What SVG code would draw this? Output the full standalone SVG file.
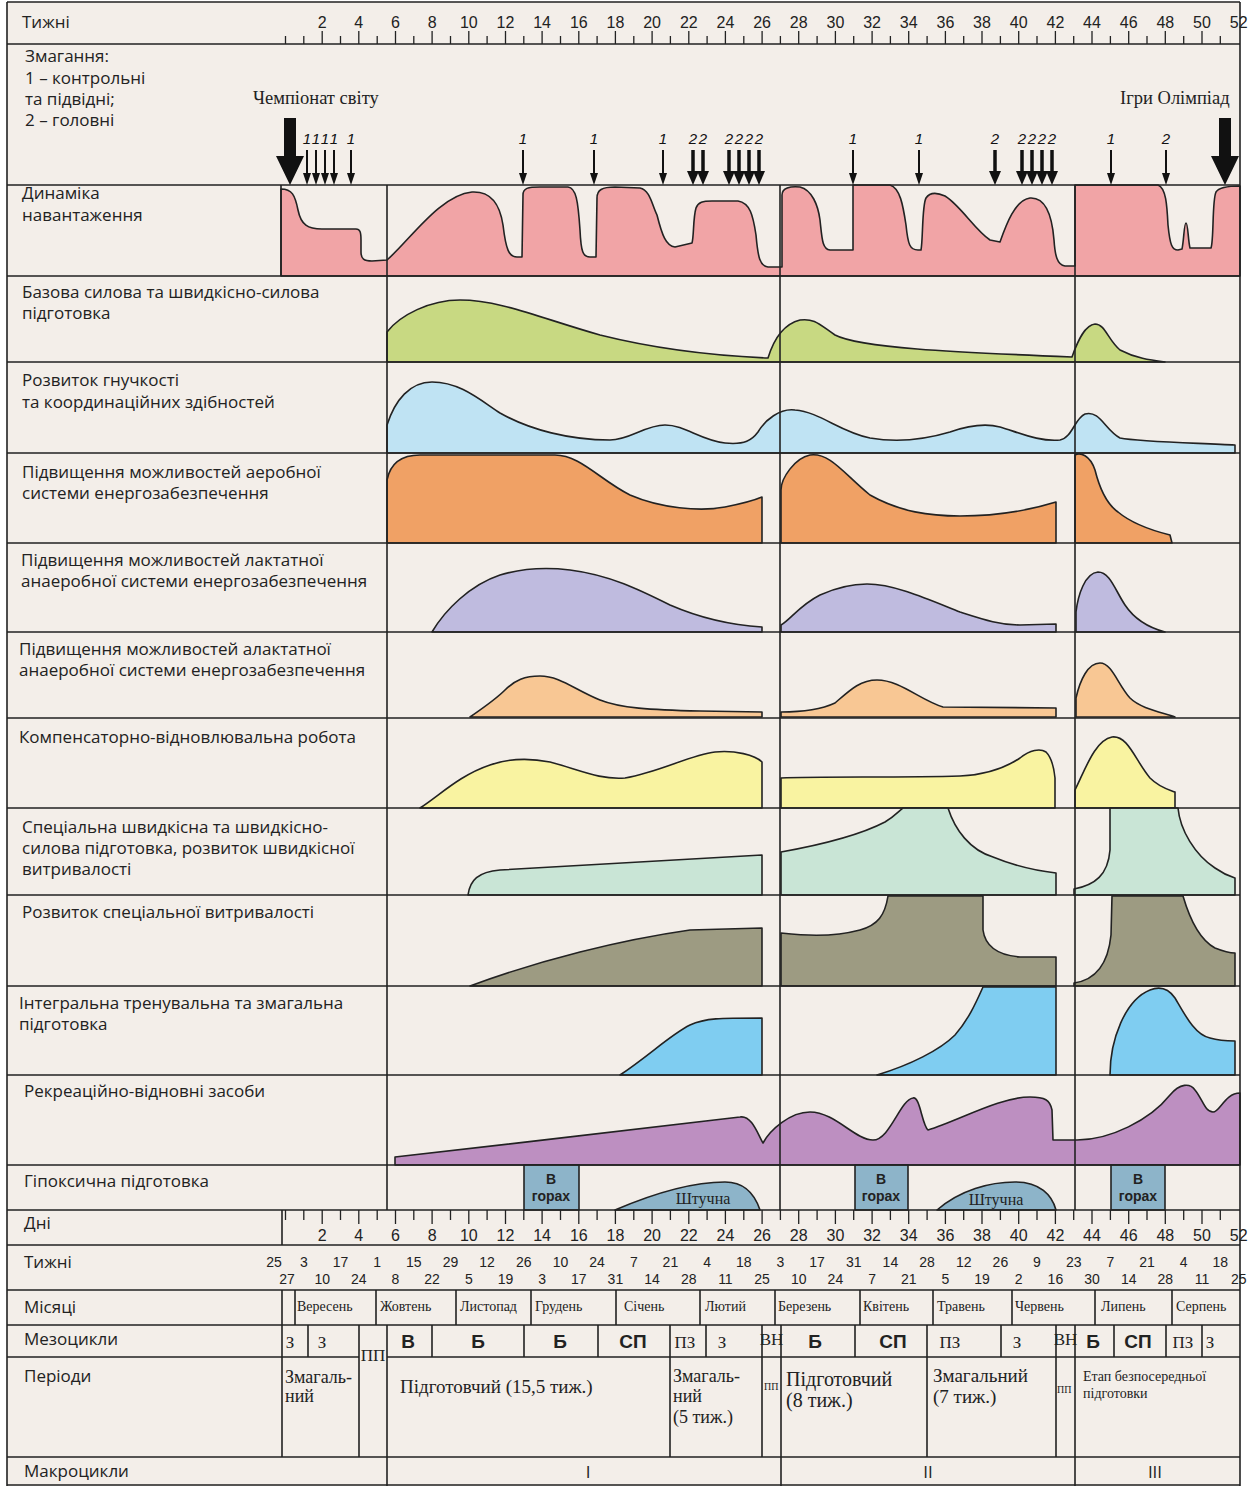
<svg xmlns="http://www.w3.org/2000/svg" width="1250" height="1486" viewBox="0 0 1250 1486">
<defs>
<style>
.lbl{font-family:"Open Sans","Noto Sans",sans-serif;font-size:17px;fill:#222}
.num{font-family:"Liberation Sans Narrow","Liberation Sans",sans-serif;font-size:16px;fill:#222;text-anchor:middle}
.dt{font-family:"Liberation Sans Narrow","Liberation Sans",sans-serif;font-size:14px;fill:#222;text-anchor:middle}
.ser{font-family:"Liberation Serif",serif;fill:#222}
.mon{font-family:"Liberation Serif",serif;font-size:14px;fill:#222}
.mb{font-family:"Liberation Sans Narrow","Liberation Sans",sans-serif;font-size:19px;font-weight:bold;fill:#222;text-anchor:middle}
.ms{font-family:"Liberation Serif",serif;font-size:17px;fill:#222;text-anchor:middle}
.it{font-family:"Liberation Sans Narrow","Liberation Sans",sans-serif;font-size:15px;font-style:italic;fill:#111;text-anchor:middle}
.ln{stroke:#222;stroke-width:1.6;fill:none}
.tk{stroke:#222;stroke-width:1.3;fill:none}
.sh{stroke:#222;stroke-width:1.6;stroke-linejoin:round}
</style>
<g id="a1"><line x1="0" y1="-35" x2="0" y2="-10" stroke="#111" stroke-width="2"/><path d="M-4,-12 L4,-12 L0,0 Z" fill="#111"/></g>
<g id="a2"><line x1="0" y1="-35" x2="0" y2="-11" stroke="#111" stroke-width="3.5"/><path d="M-6,-14 L6,-14 L0,0 Z" fill="#111"/></g>
<path id="abig" d="M-6,-67 H6 V-29 H14 L0,0 L-14,-29 H-6 Z" fill="#111"/>
</defs>
<rect x="0" y="0" width="1250" height="1486" fill="#ffffff"/>
<rect x="7" y="2" width="1233" height="1484" fill="#f3eee9"/>

<g id="shapes">
<path id="load" class="sh" fill="#f1a4a6" d="M281,276 L281,189 C292,189 295,195 298,210 C301,225 308,229 322,229 L356,229 C360,229 361,232 361,240 L361,252 C361,259 364,261 372,261 L387,260 C410,240 440,195 472,192 C492,191 500,205 503,225 C506,250 509,257 517,257 L522,257 L523,195 C523,188 528,187 540,187 L568,187 C576,188 578,200 580,230 C581,252 583,257 590,257 L596,257 L597,198 C597,190 602,187 615,187 L640,188 C650,190 652,205 657,215 C662,235 666,246 675,247 L692,243 C694,236 693,218 696,208 C698,202 703,201 712,201 L738,201 C750,203 753,215 756,235 C758,258 760,266 768,267 L782,267 L782,195 C782,188 790,186 800,187 C812,190 818,205 820,220 C822,238 822,249 830,250 L853,250 L853,185 L890,185 C900,188 903,205 906,225 C908,245 910,250 918,250 L921,250 C923,240 922,205 926,198 C930,192 936,192 945,196 C960,205 975,230 990,240 L1000,242 C1006,225 1015,200 1030,198 C1045,197 1052,215 1054,240 C1055,255 1057,265 1065,266 L1075,266 L1075,185 L1158,185 C1166,188 1167,205 1168,225 C1170,245 1172,250 1178,250 L1182,249 C1184,240 1184,223 1186,223 C1188,223 1188,240 1190,248 L1211,248 C1214,240 1212,200 1216,192 C1219,187 1228,186 1240,186 L1240,276 Z"/>
<path id="base" class="sh" fill="#c8d982" d="M387,362 L387,332 C400,315 430,300 460,300 C500,300 540,318 600,335 C660,350 720,356 768,358 C772,345 780,325 800,320 C815,318 820,325 835,335 C860,348 950,352 1072,357 C1078,340 1085,325 1095,324 C1105,324 1108,340 1120,350 C1135,358 1150,360 1165,362 Z"/>
<path id="flex" class="sh" fill="#bfe3f3" d="M387,453 L387,425 C395,400 410,382 432,382 C460,382 480,400 500,413 C530,430 570,440 610,440 C630,440 645,425 665,425 C685,425 700,440 725,443 C745,445 752,440 758,432 C765,420 780,408 795,410 C820,412 840,432 870,438 C900,443 930,438 950,432 C970,425 985,423 1000,427 C1020,433 1040,442 1060,440 C1072,438 1075,418 1085,414 C1100,410 1105,430 1120,438 C1140,442 1200,443 1235,445 L1235,453 Z"/>
<g id="aero" class="sh" fill="#f0a165">
<path d="M387,543 L387,480 C390,465 400,455 420,455 L555,455 C580,455 600,480 630,495 C660,508 700,512 725,507 C745,503 755,500 762,497 L762,543 Z"/>
<path d="M781,543 L781,490 C781,478 795,458 810,455 C830,452 845,475 870,495 C900,512 930,516 960,516 C1000,516 1030,510 1056,502 L1056,543 Z"/>
<path d="M1075,543 L1075,455 C1080,452 1090,455 1095,470 C1100,490 1108,505 1118,512 C1130,522 1150,530 1170,535 L1172,543 Z"/>
</g>
<g id="lact" class="sh" fill="#bfbbdf">
<path d="M432,632 C445,610 470,585 500,575 C520,569 545,567 570,570 C610,575 640,590 670,605 C700,618 730,625 762,627 L762,632 Z"/>
<path d="M781,632 L781,625 C790,620 800,605 820,595 C840,586 855,584 867,584 C895,584 930,600 960,612 C985,620 1000,625 1020,625 L1056,624 L1056,632 Z"/>
<path d="M1076,632 L1076,612 C1078,595 1085,573 1098,572 C1110,572 1115,590 1125,605 C1135,620 1150,628 1165,632 Z"/>
</g>
<g id="alact" class="sh" fill="#f8c794">
<path d="M470,717 C480,710 495,700 505,690 C515,680 525,676 540,676 C560,676 575,690 600,700 C620,708 650,710 700,711 L762,712 L762,717 Z"/>
<path d="M781,717 L781,712 C800,712 820,710 835,703 C850,690 860,680 877,680 C900,680 920,700 943,707 L1056,708 L1056,717 Z"/>
<path d="M1076,717 L1076,698 C1080,680 1088,663 1100,663 C1112,663 1118,685 1130,698 C1140,708 1160,712 1175,717 Z"/>
</g>
<g id="comp" class="sh" fill="#f9f3a1">
<path d="M420,808 C440,795 460,775 490,765 C510,758 530,758 550,762 C580,770 600,780 625,778 C660,772 690,755 715,752 C735,750 755,755 762,762 L762,808 Z"/>
<path d="M781,808 L781,778 C820,776 900,778 960,776 C985,775 1005,768 1020,758 C1030,750 1040,748 1046,752 C1052,758 1054,768 1055,778 L1055,808 Z"/>
<path d="M1075,808 L1075,790 C1085,770 1095,740 1112,737 C1128,735 1135,760 1150,778 C1160,788 1170,790 1175,792 L1175,808 Z"/>
</g>
<g id="speed" class="sh" fill="#c9e5d6">
<path d="M468,895 C470,880 478,872 500,870 C560,866 650,862 762,855 L762,895 Z"/>
<path d="M781,895 L781,852 C820,845 860,835 885,822 C895,816 900,810 903,808 L948,808 C955,830 970,850 993,857 C1010,864 1030,870 1056,873 L1056,895 Z"/>
<path d="M1074,895 L1074,889 C1095,885 1108,875 1110,850 L1110,808 L1178,808 C1180,830 1195,855 1215,868 C1225,875 1232,877 1235,878 L1235,895 Z"/>
</g>
<g id="endur" class="sh" fill="#9d9b82">
<path d="M470,986 C540,960 620,940 690,930 L762,928 L762,986 Z"/>
<path d="M781,986 L781,933 C800,935 830,938 860,930 C878,925 885,915 888,896 L983,896 L983,930 C985,945 995,955 1020,957 L1056,957 L1056,986 Z"/>
<path d="M1074,986 L1074,983 C1095,980 1108,965 1111,935 L1112,896 L1183,896 C1190,920 1200,940 1215,948 C1225,952 1232,953 1235,953 L1235,986 Z"/>
</g>
<g id="integr" class="sh" fill="#7fcdf1">
<path d="M620,1075 C650,1055 670,1035 690,1025 C705,1018 720,1018 762,1018 L762,1075 Z"/>
<path d="M877,1075 C910,1065 940,1050 955,1035 C968,1020 975,1005 983,987 L1056,987 L1056,1075 Z"/>
<path d="M1110,1075 C1110,1040 1125,1000 1150,990 C1160,986 1168,988 1175,998 C1185,1015 1195,1035 1210,1038 C1220,1041 1230,1041 1235,1041 L1235,1075 Z"/>
</g>
<path id="recr" class="sh" fill="#bd8fc1" d="M395,1165 L395,1157 C500,1145 650,1128 740,1117 C752,1115 758,1135 763,1143 C770,1130 790,1112 810,1112 C835,1112 855,1140 873,1140 C890,1140 900,1100 913,1098 C920,1096 922,1125 928,1130 C960,1120 1000,1097 1030,1097 C1045,1097 1050,1100 1052,1110 L1053,1140 L1077,1140 C1110,1140 1150,1120 1170,1095 C1180,1083 1190,1083 1195,1090 C1203,1100 1205,1112 1213,1112 C1220,1112 1225,1093 1240,1093 L1240,1165 Z"/>
<g id="hypox" class="sh" fill="#8db4c9">
<rect x="524" y="1165" width="55" height="45"/>
<rect x="855" y="1165" width="53" height="45"/>
<rect x="1111" y="1165" width="54" height="45"/>
<path d="M615,1210 C650,1195 690,1182 725,1182 C745,1182 755,1195 760,1210 Z"/>
<path d="M937,1210 C960,1190 990,1182 1015,1182 C1040,1182 1052,1195 1056,1210 Z"/>
</g>
</g>

<g id="grid" class="ln">
<path d="M7,44 H1240 M7,185 H1240 M7,276 H1240 M7,362 H1240 M7,453 H1240 M7,543 H1240 M7,632 H1240 M7,718 H1240 M7,808 H1240 M7,895 H1240 M7,986 H1240 M7,1075 H1240 M7,1165 H1240 M7,1210 H1240 M7,1245 H1240 M7,1290 H1240 M7,1325 H1240 M7,1357 H359 M387,1357 H1240 M7,1457 H1240 M7,1485 H1240"/>
<path d="M7,2 H1240 M7,2 V1486 M1240,2 V1486"/>
<path d="M281,185 V276 M387,185 V1210 M780,185 V1210 M1075,185 V1210 M387,1325 V1486 M781,1325 V1486 M1075,1325 V1486 M282,1210 V1245 M282,1290 V1457"/>
<path d="M295,1290 V1325 M376,1290 V1325 M456,1290 V1325 M531,1290 V1325 M616,1290 V1325 M700,1290 V1325 M775,1290 V1325 M860,1290 V1325 M933,1290 V1325 M1012,1290 V1325 M1095,1290 V1325 M1172,1290 V1325"/>
<path d="M308,1325 V1357 M359,1325 V1457 M432,1325 V1357 M524,1325 V1357 M598,1325 V1357 M670,1325 V1457 M706,1325 V1357 M762,1325 V1457 M855,1325 V1357 M927,1325 V1457 M1001,1325 V1357 M1056,1325 V1457 M1114,1325 V1357 M1166,1325 V1357 M1202,1325 V1357"/>
</g>

<g id="rulers" class="tk">
<path d="M285.5,36V44 M303.8,36V44 M322.2,31V44 M340.5,36V44 M358.8,31V44 M377.2,36V44 M395.5,31V44 M413.8,36V44 M432.1,31V44 M450.5,36V44 M468.8,31V44 M487.1,36V44 M505.5,31V44 M523.8,36V44 M542.1,31V44 M560.5,36V44 M578.8,31V44 M597.1,36V44 M615.4,31V44 M633.8,36V44 M652.1,31V44 M670.4,36V44 M688.8,31V44 M707.1,36V44 M725.4,31V44 M743.8,36V44 M762.1,31V44 M780.4,36V44 M798.7,31V44 M817.1,36V44 M835.4,31V44 M853.7,36V44 M872.1,31V44 M890.4,36V44 M908.7,31V44 M927.1,36V44 M945.4,31V44 M963.7,36V44 M982,31V44 M1000.4,36V44 M1018.7,31V44 M1037,36V44 M1055.4,31V44 M1073.7,36V44 M1092,31V44 M1110.4,36V44 M1128.7,31V44 M1147,36V44 M1165.3,31V44 M1183.7,36V44 M1202,31V44 M1220.3,36V44"/>
<path d="M285.5,1210V1220 M303.8,1210V1220 M322.2,1210V1224 M340.5,1210V1220 M358.8,1210V1224 M377.2,1210V1220 M395.5,1210V1224 M413.8,1210V1220 M432.1,1210V1224 M450.5,1210V1220 M468.8,1210V1224 M487.1,1210V1220 M505.5,1210V1224 M523.8,1210V1220 M542.1,1210V1224 M560.5,1210V1220 M578.8,1210V1224 M597.1,1210V1220 M615.4,1210V1224 M633.8,1210V1220 M652.1,1210V1224 M670.4,1210V1220 M688.8,1210V1224 M707.1,1210V1220 M725.4,1210V1224 M743.8,1210V1220 M762.1,1210V1224 M780.4,1210V1220 M798.7,1210V1224 M817.1,1210V1220 M835.4,1210V1224 M853.7,1210V1220 M872.1,1210V1224 M890.4,1210V1220 M908.7,1210V1224 M927.1,1210V1220 M945.4,1210V1224 M963.7,1210V1220 M982,1210V1224 M1000.4,1210V1220 M1018.7,1210V1224 M1037,1210V1220 M1055.4,1210V1224 M1073.7,1210V1220 M1092,1210V1224 M1110.4,1210V1220 M1128.7,1210V1224 M1147,1210V1220 M1165.3,1210V1224 M1183.7,1210V1220 M1202,1210V1224 M1220.3,1210V1220"/>
</g>

<g id="week-numbers">
<text class="num" y="28"><tspan x="322.2">2</tspan><tspan x="358.8">4</tspan><tspan x="395.5">6</tspan><tspan x="432.1">8</tspan><tspan x="468.8">10</tspan><tspan x="505.5">12</tspan><tspan x="542.1">14</tspan><tspan x="578.8">16</tspan><tspan x="615.4">18</tspan><tspan x="652.1">20</tspan><tspan x="688.8">22</tspan><tspan x="725.4">24</tspan><tspan x="762.1">26</tspan><tspan x="798.7">28</tspan><tspan x="835.4">30</tspan><tspan x="872.1">32</tspan><tspan x="908.7">34</tspan><tspan x="945.4">36</tspan><tspan x="982">38</tspan><tspan x="1018.7">40</tspan><tspan x="1055.4">42</tspan><tspan x="1092">44</tspan><tspan x="1128.7">46</tspan><tspan x="1165.3">48</tspan><tspan x="1202">50</tspan><tspan x="1238.7">52</tspan></text>
<text class="num" y="1241"><tspan x="322.2">2</tspan><tspan x="358.8">4</tspan><tspan x="395.5">6</tspan><tspan x="432.1">8</tspan><tspan x="468.8">10</tspan><tspan x="505.5">12</tspan><tspan x="542.1">14</tspan><tspan x="578.8">16</tspan><tspan x="615.4">18</tspan><tspan x="652.1">20</tspan><tspan x="688.8">22</tspan><tspan x="725.4">24</tspan><tspan x="762.1">26</tspan><tspan x="798.7">28</tspan><tspan x="835.4">30</tspan><tspan x="872.1">32</tspan><tspan x="908.7">34</tspan><tspan x="945.4">36</tspan><tspan x="982">38</tspan><tspan x="1018.7">40</tspan><tspan x="1055.4">42</tspan><tspan x="1092">44</tspan><tspan x="1128.7">46</tspan><tspan x="1165.3">48</tspan><tspan x="1202">50</tspan><tspan x="1238.7">52</tspan></text>
<text class="dt" y="1267"><tspan x="274">25</tspan><tspan x="303.8">3</tspan><tspan x="340.5">17</tspan><tspan x="377.2">1</tspan><tspan x="413.8">15</tspan><tspan x="450.5">29</tspan><tspan x="487.1">12</tspan><tspan x="523.8">26</tspan><tspan x="560.5">10</tspan><tspan x="597.1">24</tspan><tspan x="633.8">7</tspan><tspan x="670.4">21</tspan><tspan x="707.1">4</tspan><tspan x="743.8">18</tspan><tspan x="780.4">3</tspan><tspan x="817.1">17</tspan><tspan x="853.7">31</tspan><tspan x="890.4">14</tspan><tspan x="927.1">28</tspan><tspan x="963.7">12</tspan><tspan x="1000.4">26</tspan><tspan x="1037">9</tspan><tspan x="1073.7">23</tspan><tspan x="1110.4">7</tspan><tspan x="1147">21</tspan><tspan x="1183.7">4</tspan><tspan x="1220.3">18</tspan></text>
<text class="dt" y="1284"><tspan x="287">27</tspan><tspan x="322.2">10</tspan><tspan x="358.8">24</tspan><tspan x="395.5">8</tspan><tspan x="432.1">22</tspan><tspan x="468.8">5</tspan><tspan x="505.5">19</tspan><tspan x="542.1">3</tspan><tspan x="578.8">17</tspan><tspan x="615.4">31</tspan><tspan x="652.1">14</tspan><tspan x="688.8">28</tspan><tspan x="725.4">11</tspan><tspan x="762.1">25</tspan><tspan x="798.7">10</tspan><tspan x="835.4">24</tspan><tspan x="872.1">7</tspan><tspan x="908.7">21</tspan><tspan x="945.4">5</tspan><tspan x="982">19</tspan><tspan x="1018.7">2</tspan><tspan x="1055.4">16</tspan><tspan x="1092">30</tspan><tspan x="1128.7">14</tspan><tspan x="1165.3">28</tspan><tspan x="1202">11</tspan><tspan x="1238.7">25</tspan></text>
</g>

<g id="competitions">
<text class="lbl"><tspan x="25" y="62">Змагання:</tspan><tspan x="25" y="84">1 – контрольні</tspan><tspan x="25" y="105">та підвідні;</tspan><tspan x="25" y="126">2 – головні</tspan></text>
<text class="ser" font-size="18.5" x="253" y="104">Чемпіонат світу</text>
<text class="ser" font-size="18.5" x="1120" y="104">Ігри Олімпіад</text>
<use href="#abig" x="290" y="185"/>
<use href="#abig" x="1225" y="185"/>
<use href="#a1" x="307" y="185"/><use href="#a1" x="316" y="185"/><use href="#a1" x="325" y="185"/><use href="#a1" x="334" y="185"/><use href="#a1" x="351" y="185"/>
<use href="#a1" x="523" y="185"/><use href="#a1" x="594" y="185"/><use href="#a1" x="663" y="185"/>
<use href="#a2" x="693" y="185"/><use href="#a2" x="703" y="185"/>
<use href="#a2" x="729" y="185"/><use href="#a2" x="739" y="185"/><use href="#a2" x="749" y="185"/><use href="#a2" x="759" y="185"/>
<use href="#a1" x="853" y="185"/><use href="#a1" x="919" y="185"/>
<use href="#a2" x="995" y="185"/>
<use href="#a2" x="1022" y="185"/><use href="#a2" x="1032" y="185"/><use href="#a2" x="1042" y="185"/><use href="#a2" x="1052" y="185"/>
<use href="#a1" x="1111" y="185"/><use href="#a1" x="1166" y="185"/>
<text class="it" y="144"><tspan x="307">1</tspan><tspan x="316">1</tspan><tspan x="325">1</tspan><tspan x="334">1</tspan><tspan x="351">1</tspan><tspan x="523">1</tspan><tspan x="594">1</tspan><tspan x="663">1</tspan><tspan x="853">1</tspan><tspan x="919">1</tspan><tspan x="1111">1</tspan></text>
<text class="it" y="144" font-style="normal"><tspan x="693">2</tspan><tspan x="703">2</tspan><tspan x="729">2</tspan><tspan x="739">2</tspan><tspan x="749">2</tspan><tspan x="759">2</tspan><tspan x="995">2</tspan><tspan x="1022">2</tspan><tspan x="1032">2</tspan><tspan x="1042">2</tspan><tspan x="1052">2</tspan><tspan x="1166">2</tspan></text>
</g>

<g id="row-labels" class="lbl">
<text x="22" y="28">Тижні</text>
<text><tspan x="22" y="199">Динаміка</tspan><tspan x="22" y="221">навантаження</tspan></text>
<text><tspan x="22" y="298">Базова силова та швидкісно-силова</tspan><tspan x="22" y="319">підготовка</tspan></text>
<text><tspan x="22" y="386">Розвиток гнучкості</tspan><tspan x="22" y="408">та координаційних здібностей</tspan></text>
<text><tspan x="22" y="478">Підвищення можливостей аеробної</tspan><tspan x="22" y="499">системи енергозабезпечення</tspan></text>
<text><tspan x="21" y="566">Підвищення можливостей лактатної</tspan><tspan x="21" y="587">анаеробної системи енергозабезпечення</tspan></text>
<text><tspan x="19" y="655">Підвищення можливостей алактатної</tspan><tspan x="19" y="676">анаеробної системи енергозабезпечення</tspan></text>
<text x="19" y="743">Компенсаторно-відновлювальна робота</text>
<text><tspan x="22" y="833">Спеціальна швидкісна та швидкісно-</tspan><tspan x="22" y="854">силова підготовка, розвиток швидкісної</tspan><tspan x="22" y="875">витривалості</tspan></text>
<text x="22" y="918">Розвиток спеціальної витривалості</text>
<text><tspan x="19" y="1009">Інтегральна тренувальна та змагальна</tspan><tspan x="19" y="1030">підготовка</tspan></text>
<text x="24" y="1097">Рекреаційно-відновні засоби</text>
<text x="24" y="1187">Гіпоксична підготовка</text>
<text x="24" y="1229">Дні</text>
<text x="24" y="1268">Тижні</text>
<text x="24" y="1313">Місяці</text>
<text x="24" y="1345">Мезоцикли</text>
<text x="24" y="1382">Періоди</text>
<text x="24" y="1477">Макроцикли</text>
</g>

<g id="hypox-labels">
<text font-family="Liberation Sans Narrow,Liberation Sans,sans-serif" font-size="14" font-weight="bold" fill="#222" text-anchor="middle"><tspan x="551" y="1184">В</tspan><tspan x="551" y="1201">горах</tspan><tspan x="881" y="1184">В</tspan><tspan x="881" y="1201">горах</tspan><tspan x="1138" y="1184">В</tspan><tspan x="1138" y="1201">горах</tspan></text>
<text class="ser" font-size="16" text-anchor="middle"><tspan x="703" y="1204">Штучна</tspan><tspan x="996" y="1205">Штучна</tspan></text>
</g>

<g id="months" class="mon">
<text y="1311"><tspan x="297">Вересень</tspan><tspan x="380">Жовтень</tspan><tspan x="460">Листопад</tspan><tspan x="535">Грудень</tspan><tspan x="624">Січень</tspan><tspan x="705">Лютий</tspan><tspan x="778">Березень</tspan><tspan x="863">Квітень</tspan><tspan x="937">Травень</tspan><tspan x="1015">Червень</tspan><tspan x="1101">Липень</tspan><tspan x="1176">Серпень</tspan></text>
</g>

<g id="mesocycles">
<text class="ms" y="1348"><tspan x="290">З</tspan><tspan x="322">З</tspan><tspan x="685">ПЗ</tspan><tspan x="722">З</tspan><tspan x="950">ПЗ</tspan><tspan x="1017">З</tspan><tspan x="1183">ПЗ</tspan><tspan x="1210">З</tspan></text>
<text class="ms" font-size="9" y="1345"><tspan x="771.5">ВН</tspan><tspan x="1065.5">ВН</tspan></text>
<text class="ms" font-size="14" y="1361"><tspan x="373">ПП</tspan></text>
<text class="mb" y="1348"><tspan x="408">В</tspan><tspan x="478">Б</tspan><tspan x="560">Б</tspan><tspan x="633">СП</tspan><tspan x="815">Б</tspan><tspan x="893">СП</tspan><tspan x="1093">Б</tspan><tspan x="1138">СП</tspan></text>
</g>

<g id="periods" class="ser">
<text font-size="18"><tspan x="285" y="1383">Змагаль-</tspan><tspan x="285" y="1402">ний</tspan></text>
<text font-size="19" x="400" y="1393">Підготовчий (15,5 тиж.)</text>
<text font-size="18"><tspan x="673" y="1382">Змагаль-</tspan><tspan x="673" y="1402">ний</tspan><tspan x="673" y="1423">(5 тиж.)</tspan></text>
<text font-size="10" x="764" y="1390">ПП</text>
<text font-size="20"><tspan x="786" y="1386">Підготовчий</tspan><tspan x="786" y="1407">(8 тиж.)</tspan></text>
<text font-size="19"><tspan x="933" y="1382">Змагальний</tspan><tspan x="933" y="1403">(7 тиж.)</tspan></text>
<text font-size="10" x="1057" y="1393">ПП</text>
<text font-size="14"><tspan x="1083" y="1381">Етап безпосередньої</tspan><tspan x="1083" y="1398">підготовки</tspan></text>
</g>

<g id="macrocycles" font-family="Open Sans,Noto Sans,sans-serif" font-size="17" fill="#222" text-anchor="middle">
<text x="588" y="1478">I</text>
<text x="928" y="1478">II</text>
<text x="1155" y="1478">III</text>
</g>
</svg>
